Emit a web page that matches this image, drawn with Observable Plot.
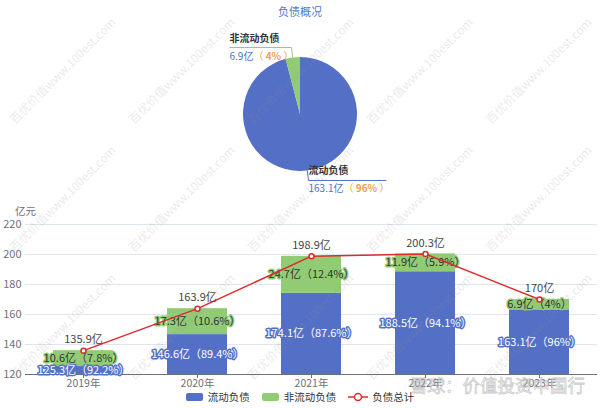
<!DOCTYPE html>
<html><head><meta charset="utf-8">
<script src="https://cdn.jsdelivr.net/npm/d3@7"></script>
<script src="https://cdn.jsdelivr.net/npm/@observablehq/plot@0.6"></script>
<style>
body{margin:0;background:#fff;font-family:"Noto Sans CJK SC","Noto Sans",sans-serif;}
#wrap{position:relative;width:600px;height:408px;overflow:hidden;}
#legend{position:absolute;left:0;top:391px;width:600px;display:flex;justify-content:center;font-size:10.5px;line-height:12px;color:#333;}
#legend .it{display:flex;align-items:center;margin:0 6px;}
#legend .sw{width:17px;height:8px;border-radius:2px;margin-right:5px;}
#wm{position:absolute;left:0;top:0;width:600px;height:408px;pointer-events:none;}
#wm span{position:absolute;white-space:nowrap;font-size:12px;color:rgba(140,140,140,0.2);transform:translate(-50%,-50%) rotate(-45deg);}
#xq{position:absolute;left:410px;top:374px;font-size:17.5px;line-height:22px;color:rgba(255,255,255,0.6);-webkit-text-stroke:0.8px rgba(150,150,150,0.5);white-space:nowrap;pointer-events:none;}
</style></head><body><div id="wrap"></div>
<script>
const years = ["2019年","2020年","2021年","2022年","2023年"];
const current = [125.3,146.6,174.1,188.5,163.1];
const currentPct = ["92.2%","89.4%","87.6%","94.1%","96%"];
const nonCurrent = [10.6,17.3,24.7,11.9,6.9];
const nonCurrentPct = ["7.8%","10.6%","12.4%","5.9%","4%"];
const totals = [135.9,163.9,198.9,200.3,170];
const yTicks = [120,140,160,180,200,220];
const seriesNames = ["流动负债","非流动负债","负债总计"];
const pieNames = ["流动负债","非流动负债"];
const pieValues = [163.1,6.9];
const piePct = ["96%","4%"];
const pieValueLabels = ["163.1亿","6.9亿"];
const titleText = "负债概况";
const unitText = "亿元";
const watermarkText = "百优价值www.100est.com";
const sourceText = "雪球：价值投资中国行";

const BLUE = "#5470c6", GREEN = "#91cc75", RED = "#dd2a2a", ORANGE = "#f0a04b";
const yMin = yTicks[0];

const barRows = [];
years.forEach((y,i)=>{
  barRows.push({year:y, series:seriesNames[0], value:current[i]});
  barRows.push({year:y, series:seriesNames[1], value:nonCurrent[i]});
});
const blueLabels = years.map((y,i)=>({year:y, y:(yMin + current[i]) / 2, text:`${current[i]}亿（${currentPct[i]}）`}));
const greenLabels = years.map((y,i)=>({year:y, y: current[i] + nonCurrent[i]/2, text:`${nonCurrent[i]}亿（${nonCurrentPct[i]}）`}));
const totalRows = years.map((y,i)=>({year:y, total:totals[i], text:`${totals[i]}亿`}));

function pieMark(index, scales, values, dimensions, context) {
  const doc = (context && context.document) || document;
  const svgNS = "http://www.w3.org/2000/svg";
  const g = d3.select(doc.createElementNS(svgNS, "g")).attr("text-anchor","start");
  const cx = dimensions.width/2, cy = 114, r = 57;
  const colors = [BLUE, GREEN];
  const data = pieNames.map((n,i)=>({name:n, value:pieValues[i], pct:piePct[i], vl:pieValueLabels[i], color:colors[i]}));
  const arcs = d3.pie().sort(null).value(d=>d.value)(data);
  const arc = d3.arc().innerRadius(0).outerRadius(r);
  const pg = g.append("g").attr("transform", `translate(${cx},${cy})`);
  pg.selectAll("path").data(arcs).join("path").attr("d", arc).attr("fill", d=>d.data.color);
  g.append("text").attr("x", cx).attr("y", 16).attr("text-anchor","middle")
    .attr("font-size", 11).attr("fill", "#4a78d0").text(titleText);
  const ctx = doc.createElement("canvas").getContext("2d");
  ctx.font = "10px 'Noto Sans CJK SC'";
  arcs.forEach(a=>{
    const mid = (a.startAngle + a.endAngle)/2;
    const sx = cx + r*Math.sin(mid), sy = cy - r*Math.cos(mid);
    const ex = cx + (r+10)*Math.sin(mid), ey = cy - (r+10)*Math.cos(mid);
    const left = Math.sin(mid) < 0;
    const valText = `${a.data.vl}（ ${a.data.pct} ）`;
    const len = ctx.measureText(valText).width * 0.95 + 2;
    const hx = left ? ex - len : ex + len;
    g.append("path").attr("d", `M${sx},${sy}L${ex},${ey}L${hx},${ey}`)
      .attr("fill","none").attr("stroke", a.data.color).attr("stroke-width",1);
    const tx = Math.min(ex, hx);
    g.append("text").attr("x", tx).attr("y", ey - 6).attr("font-size", 10)
      .attr("font-weight","bold").attr("fill","#333").text(a.data.name);
    const t = g.append("text").attr("x", tx).attr("y", ey + 12).attr("font-size", 10);
    t.append("tspan").attr("fill", BLUE).text(a.data.vl);
    t.append("tspan").attr("fill", ORANGE).text("（ ");
    t.append("tspan").attr("fill", ORANGE).attr("font-weight","bold").text(a.data.pct);
    t.append("tspan").attr("fill", ORANGE).text(" ）");
  });
  return g.node();
}

const chart = Plot.plot({
  width: 600, height: 408,
  marginTop: 224, marginBottom: 34, marginLeft: 25, marginRight: 3,
  style: {fontFamily: "'Noto Sans CJK SC', sans-serif", background: "#fff", overflow: "visible"},
  x: {domain: years, paddingInner: 0.47, paddingOuter: 0.235, label: null},
  y: {domain: [yMin, yTicks[yTicks.length-1]], label: null},
  color: {domain: seriesNames.slice(0,2), range: [BLUE, GREEN]},
  marks: [
    pieMark,
    Plot.gridY(yTicks, {stroke: "#e0e6f1", strokeOpacity: 1}),
    Plot.barY(barRows, {x: "year", y: "value", fill: "series", order: seriesNames.slice(0,2), clip: true}),
    Plot.ruleY([yMin], {stroke: "#6e7079"}),
    Plot.axisY(yTicks, {tickSize: 0, tickPadding: 4, fontSize: 11, fill: "#6e7079", label: null}),
    Plot.axisX({tickSize: 4, tickPadding: 1, fontSize: 10.5, fill: "#6e7079", stroke: "#6e7079", label: null}),
    Plot.text([unitText], {frameAnchor: "top-left", dy: -17, dx: 0, textAnchor: "middle", fontSize: 10.5, fill: "#6e7079"}),
    Plot.text(blueLabels, {x: "year", y: "y", text: "text", fill: "#fff", stroke: BLUE, strokeWidth: 3, fontSize: 11}),
    Plot.text(greenLabels, {x: "year", y: "y", text: "text", fill: "#333", stroke: GREEN, strokeWidth: 3, fontSize: 11}),
    Plot.line(totalRows, {x: "year", y: "total", stroke: RED, strokeWidth: 1.5}),
    Plot.dot(totalRows, {x: "year", y: "total", r: 2.5, fill: "#fff", stroke: RED, strokeWidth: 1.5}),
    Plot.text(totalRows, {x: "year", y: "total", text: "text", dy: -11, fill: "#444", fontSize: 11})
  ]
});
const wrap = document.getElementById("wrap");
wrap.appendChild(chart);

const legend = document.createElement("div");
legend.id = "legend";
const legendColors = [BLUE, GREEN, RED];
seriesNames.forEach((n,i)=>{
  const it = document.createElement("div"); it.className = "it";
  if (i < 2) {
    const sw = document.createElement("div"); sw.className = "sw"; sw.style.background = legendColors[i];
    it.appendChild(sw);
  } else {
    const s = document.createElementNS("http://www.w3.org/2000/svg","svg");
    s.setAttribute("width", 20); s.setAttribute("height", 10); s.style.marginRight = "4px";
    s.innerHTML = `<line x1="0" y1="5" x2="20" y2="5" stroke="${RED}" stroke-width="1.5"/><circle cx="10" cy="5" r="3.5" fill="#fff" stroke="${RED}" stroke-width="1.5"/>`;
    it.appendChild(s);
  }
  const t = document.createElement("span"); t.textContent = n; it.appendChild(t);
  legend.appendChild(it);
});
wrap.appendChild(legend);

// faint watermarks as in the source image (only those fully inside the frame)
const wm = document.createElement("div"); wm.id = "wm";
for (let row = 0; row < 3; row++) {
  for (let col = 0; col < 5; col++) {
    const s = document.createElement("span");
    s.textContent = watermarkText;
    s.style.left = (62 + col * 119) + "px";
    s.style.top = (70 + row * 128) + "px";
    wm.appendChild(s);
  }
}
wrap.appendChild(wm);
const xq = document.createElement("div"); xq.id = "xq"; xq.textContent = sourceText;
wrap.appendChild(xq);
</script>
</body></html>
